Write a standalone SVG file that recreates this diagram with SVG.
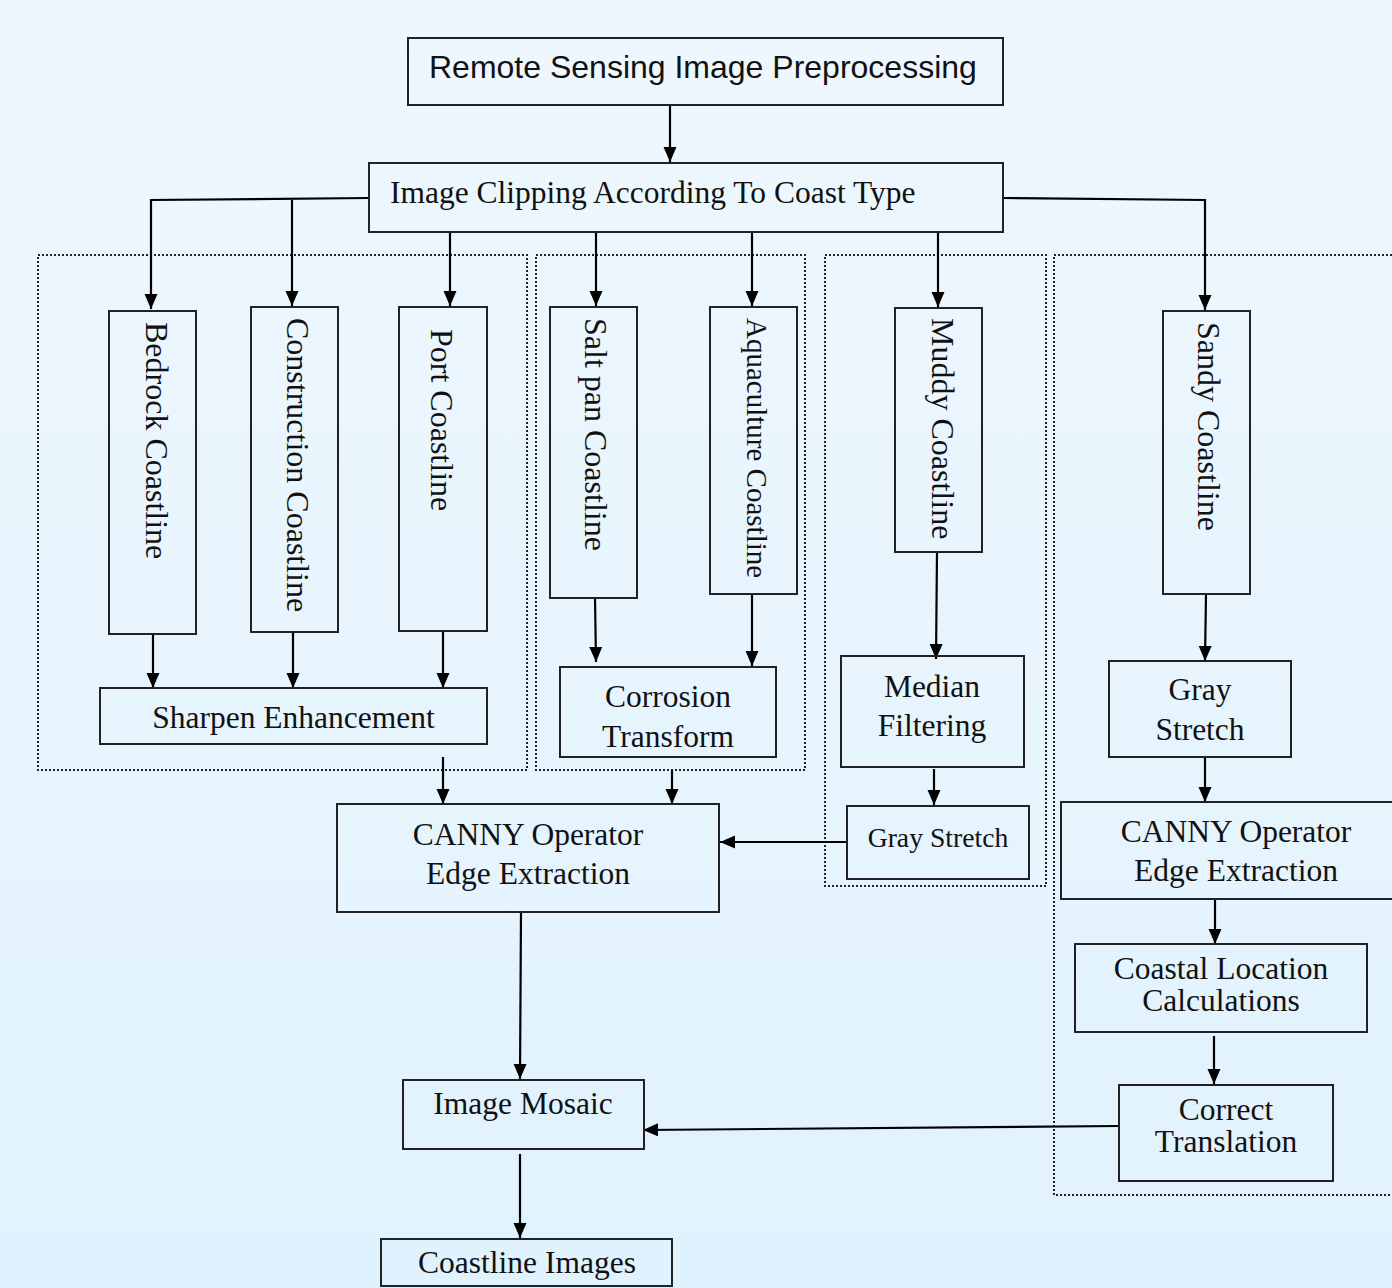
<svg xmlns="http://www.w3.org/2000/svg" width="1392" height="1288" viewBox="0 0 1392 1288">
<defs>
<linearGradient id="bg" x1="0" y1="0" x2="0" y2="1">
<stop offset="0" stop-color="#eff7fd"/>
<stop offset="1" stop-color="#e0f2fd"/>
</linearGradient>
<marker id="ah" markerUnits="userSpaceOnUse" markerWidth="16" markerHeight="14" refX="15" refY="6.5" orient="auto">
<path d="M0,0 L15,6.5 L0,13 Z" fill="#000"/>
</marker>
<style>
.box{fill:none;stroke:#222;stroke-width:2}
.grp{fill:none;stroke:#222;stroke-width:2;stroke-dasharray:2 2}
.t{font-family:"Liberation Serif","Times New Roman",serif;font-size:31.5px;fill:#111}
.c{text-anchor:middle}
.s{font-family:"Liberation Sans",Arial,sans-serif;font-size:32px;fill:#111}
.ln{fill:none;stroke:#000;stroke-width:2.2;marker-end:url(#ah)}
</style>
</defs>
<rect width="1392" height="1288" fill="url(#bg)"/>

<g id="groups">
<rect class="grp" x="38" y="255" width="489" height="515"/>
<rect class="grp" x="536" y="255" width="269" height="515"/>
<rect class="grp" x="825" y="255" width="221" height="631"/>
<rect class="grp" x="1054" y="255" width="350" height="940"/>
</g>

<g id="connectors">
<path class="ln" d="M670,105 V162"/>
<path class="ln" d="M369,198 L151,200 V309"/>
<path class="ln" d="M292,200 V306"/>
<path class="ln" d="M450,232 V306"/>
<path class="ln" d="M596,232 V306"/>
<path class="ln" d="M752,232 V306"/>
<path class="ln" d="M938,232 V307"/>
<path class="ln" d="M1003,198 L1205,200 V310"/>
<path class="ln" d="M153,634 V688"/>
<path class="ln" d="M293,632 V688"/>
<path class="ln" d="M443,631 V688"/>
<path class="ln" d="M595,598 L596,662"/>
<path class="ln" d="M752,594 V666"/>
<path class="ln" d="M937,552 L936,659"/>
<path class="ln" d="M934,769 V805"/>
<path class="ln" d="M847,842 H720"/>
<path class="ln" d="M443,757 V804"/>
<path class="ln" d="M672,770 V804"/>
<path class="ln" d="M1206,594 L1205,661"/>
<path class="ln" d="M1205,757 V802"/>
<path class="ln" d="M1215,898 V944"/>
<path class="ln" d="M1214,1036 V1084"/>
<path class="ln" d="M1119,1126 L643,1130"/>
<path class="ln" d="M521,912 L520,1079"/>
<path class="ln" d="M520,1154 V1238"/>
</g>

<g id="n-remote">
<rect class="box" x="408" y="38" width="595" height="67"/>
<text class="s" x="429" y="78">Remote Sensing Image Preprocessing</text>
</g>
<g id="n-clipping">
<rect class="box" x="369" y="163" width="634" height="69"/>
<text class="t" x="390" y="203">Image Clipping According To Coast Type</text>
</g>

<g id="n-bedrock">
<rect class="box" x="109" y="311" width="87" height="323"/>
<text class="t" font-size="32" transform="translate(146,322) rotate(90)" style="font-size:32px">Bedrock Coastline</text>
</g>
<g id="n-construction">
<rect class="box" x="251" y="307" width="87" height="325"/>
<text class="t" transform="translate(287,318) rotate(90)" style="font-size:32px">Construction Coastline</text>
</g>
<g id="n-port">
<rect class="box" x="399" y="307" width="88" height="324"/>
<text class="t" transform="translate(431,329) rotate(90)" style="font-size:32px">Port Coastline</text>
</g>
<g id="n-saltpan">
<rect class="box" x="550" y="307" width="87" height="291"/>
<text class="t" transform="translate(585,318) rotate(90)" style="font-size:32px">Salt pan Coastline</text>
</g>
<g id="n-aquaculture">
<rect class="box" x="710" y="307" width="87" height="287"/>
<text class="t" transform="translate(747,318) rotate(90)" style="font-size:29px">Aquaculture Coastline</text>
</g>
<g id="n-muddy">
<rect class="box" x="895" y="308" width="87" height="244"/>
<text class="t" transform="translate(932,318) rotate(90)" style="font-size:32px">Muddy Coastline</text>
</g>
<g id="n-sandy">
<rect class="box" x="1163" y="311" width="87" height="283"/>
<text class="t" transform="translate(1198,322) rotate(90)" style="font-size:32px">Sandy Coastline</text>
</g>

<g id="n-sharpen">
<rect class="box" x="100" y="688" width="387" height="56"/>
<text class="t c" x="293.5" y="728">Sharpen Enhancement</text>
</g>
<g id="n-corrosion">
<rect class="box" x="560" y="667" width="216" height="90"/>
<text class="t c" x="668" y="707">Corrosion</text>
<text class="t c" x="668" y="747">Transform</text>
</g>
<g id="n-median">
<rect class="box" x="841" y="656" width="183" height="111"/>
<text class="t c" x="932" y="697">Median</text>
<text class="t c" x="932" y="736">Filtering</text>
</g>
<g id="n-graystretch-muddy">
<rect class="box" x="847" y="806" width="182" height="73"/>
<text class="t c" x="938" y="847" style="font-size:27.7px">Gray Stretch</text>
</g>
<g id="n-canny-left">
<rect class="box" x="337" y="804" width="382" height="108"/>
<text class="t c" x="528" y="845">CANNY Operator</text>
<text class="t c" x="528" y="884">Edge Extraction</text>
</g>
<g id="n-gray-sandy">
<rect class="box" x="1109" y="661" width="182" height="96"/>
<text class="t c" x="1200" y="700">Gray</text>
<text class="t c" x="1200" y="740">Stretch</text>
</g>
<g id="n-canny-right">
<rect class="box" x="1061" y="802" width="345" height="97"/>
<text class="t c" x="1236" y="842">CANNY Operator</text>
<text class="t c" x="1236" y="881">Edge Extraction</text>
</g>
<g id="n-coastal">
<rect class="box" x="1075" y="944" width="292" height="88"/>
<text class="t c" x="1221" y="979">Coastal Location</text>
<text class="t c" x="1221" y="1011">Calculations</text>
</g>
<g id="n-correct">
<rect class="box" x="1119" y="1085" width="214" height="96"/>
<text class="t c" x="1226" y="1120">Correct</text>
<text class="t c" x="1226" y="1152">Translation</text>
</g>
<g id="n-mosaic">
<rect class="box" x="403" y="1080" width="241" height="69"/>
<text class="t c" x="523" y="1114">Image Mosaic</text>
</g>
<g id="n-coastline-images">
<rect class="box" x="381" y="1239" width="291" height="47"/>
<text class="t c" x="527" y="1273">Coastline Images</text>
</g>
</svg>
